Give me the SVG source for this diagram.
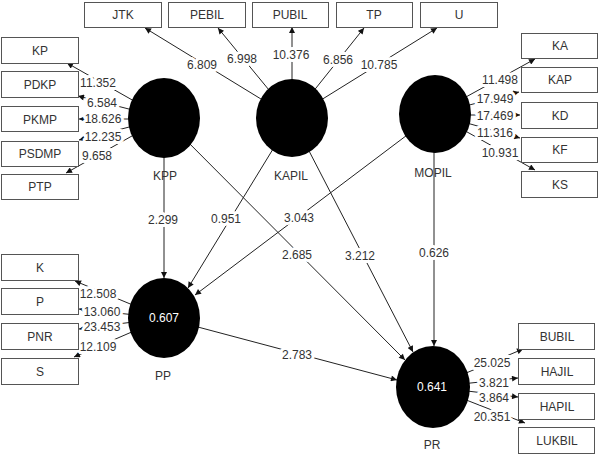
<svg xmlns="http://www.w3.org/2000/svg" width="599" height="454" viewBox="0 0 599 454">
<style>
.box{fill:#fff;stroke:#555;stroke-width:1}
.bt{font-family:"Liberation Sans",Arial,sans-serif;font-size:12px;fill:#333;text-anchor:middle}
.c{fill:#000}
.ct{font-family:"Liberation Sans",Arial,sans-serif;font-size:12px;fill:#fff;text-anchor:middle}
.nl{font-family:"Liberation Sans",Arial,sans-serif;font-size:12px;fill:#333;text-anchor:middle}
.ln{stroke:#222;stroke-width:1;fill:none;marker-end:url(#ah)}
.lb{font-family:"Liberation Sans",Arial,sans-serif;font-size:12px;fill:#333;text-anchor:middle;stroke:#fff;stroke-width:6;paint-order:stroke;stroke-linejoin:round}
</style>
<defs>
<marker id="ah" viewBox="0 0 10 10" refX="10" refY="5" markerWidth="7" markerHeight="6" markerUnits="userSpaceOnUse" orient="auto">
<path d="M0,0 L10,5 L0,10 z" fill="#111"/>
</marker>
</defs>
<rect width="599" height="454" fill="#fff"/>
<g id="connectors">
<line class="ln" x1="292" y1="118" x2="145" y2="28"/>
<line class="ln" x1="292" y1="118" x2="218" y2="28"/>
<line class="ln" x1="292" y1="118" x2="292" y2="27"/>
<line class="ln" x1="292" y1="118" x2="364" y2="28"/>
<line class="ln" x1="292" y1="118" x2="437" y2="28"/>
<line class="ln" x1="164" y1="118" x2="67" y2="63"/>
<line class="ln" x1="164" y1="118" x2="78" y2="96"/>
<line class="ln" x1="164" y1="119" x2="79" y2="119"/>
<line class="ln" x1="164" y1="118" x2="79" y2="140"/>
<line class="ln" x1="164" y1="118" x2="66" y2="173"/>
<line class="ln" x1="435" y1="114" x2="535" y2="59"/>
<line class="ln" x1="435" y1="114" x2="519" y2="92"/>
<line class="ln" x1="435" y1="115" x2="520" y2="115"/>
<line class="ln" x1="435" y1="114" x2="520" y2="138"/>
<line class="ln" x1="435" y1="114" x2="535" y2="170"/>
<line class="ln" x1="164" y1="318" x2="75" y2="281"/>
<line class="ln" x1="164" y1="318" x2="79" y2="309"/>
<line class="ln" x1="164" y1="318" x2="79" y2="329"/>
<line class="ln" x1="164" y1="318" x2="74" y2="357"/>
<line class="ln" x1="433" y1="387" x2="523" y2="349"/>
<line class="ln" x1="433" y1="387" x2="518" y2="378"/>
<line class="ln" x1="433" y1="387" x2="518" y2="397"/>
<line class="ln" x1="433" y1="387" x2="525" y2="423"/>
<line class="ln" x1="164" y1="118" x2="164" y2="278"/>
<line class="ln" x1="292" y1="118" x2="188" y2="288"/>
<line class="ln" x1="435" y1="114" x2="195" y2="295"/>
<line class="ln" x1="164" y1="118" x2="405" y2="360"/>
<line class="ln" x1="292" y1="118" x2="413" y2="352"/>
<line class="ln" x1="434" y1="114" x2="434" y2="346"/>
<line class="ln" x1="164" y1="318" x2="397" y2="380"/>
<text class="lb" x="202" y="69">6.809</text>
<text class="lb" x="242" y="63">6.998</text>
<text class="lb" x="291" y="59">10.376</text>
<text class="lb" x="338" y="64">6.856</text>
<text class="lb" x="379" y="69">10.785</text>
<text class="lb" x="98" y="87">11.352</text>
<text class="lb" x="102" y="107">6.584</text>
<text class="lb" x="103" y="123">18.626</text>
<text class="lb" x="103" y="141">12.235</text>
<text class="lb" x="97" y="160">9.658</text>
<text class="lb" x="500" y="84">11.498</text>
<text class="lb" x="495" y="103">17.949</text>
<text class="lb" x="495" y="120">17.469</text>
<text class="lb" x="495" y="137">11.316</text>
<text class="lb" x="500" y="157">10.931</text>
<text class="lb" x="98" y="298">12.508</text>
<text class="lb" x="102" y="316">13.060</text>
<text class="lb" x="102" y="331">23.453</text>
<text class="lb" x="98" y="351">12.109</text>
<text class="lb" x="492" y="367">25.025</text>
<text class="lb" x="494" y="387">3.821</text>
<text class="lb" x="494" y="402">3.864</text>
<text class="lb" x="492" y="421">20.351</text>
<text class="lb" x="163" y="224">2.299</text>
<text class="lb" x="226" y="223">0.951</text>
<text class="lb" x="299" y="222">3.043</text>
<text class="lb" x="297" y="259">2.685</text>
<text class="lb" x="360" y="260">3.212</text>
<text class="lb" x="434" y="257">0.626</text>
<text class="lb" x="297" y="359">2.783</text>
</g>
<g id="JTK"><rect class="box" x="84.500" y="2.500" width="77" height="25"/><text class="bt" x="123" y="19">JTK</text></g>
<g id="PEBIL"><rect class="box" x="168.500" y="2.500" width="77" height="25"/><text class="bt" x="207" y="19">PEBIL</text></g>
<g id="PUBIL"><rect class="box" x="252.500" y="2.500" width="76" height="25"/><text class="bt" x="290" y="19">PUBIL</text></g>
<g id="TP"><rect class="box" x="336.500" y="2.500" width="76" height="25"/><text class="bt" x="374" y="19">TP</text></g>
<g id="U"><rect class="box" x="420.500" y="2.500" width="77" height="25"/><text class="bt" x="459" y="19">U</text></g>
<g id="KP"><rect class="box" x="1.500" y="37.500" width="77" height="26"/><text class="bt" x="40" y="55">KP</text></g>
<g id="PDKP"><rect class="box" x="1.500" y="71.500" width="77" height="26"/><text class="bt" x="40" y="89">PDKP</text></g>
<g id="PKMP"><rect class="box" x="1.500" y="106.500" width="77" height="25"/><text class="bt" x="40" y="124">PKMP</text></g>
<g id="PSDMP"><rect class="box" x="1.500" y="141.500" width="77" height="25"/><text class="bt" x="40" y="158">PSDMP</text></g>
<g id="PTP"><rect class="box" x="1.500" y="174.500" width="77" height="25"/><text class="bt" x="40" y="191">PTP</text></g>
<g id="KA"><rect class="box" x="521.500" y="33.500" width="76" height="25"/><text class="bt" x="560" y="50">KA</text></g>
<g id="KAP"><rect class="box" x="521.500" y="67.500" width="76" height="25"/><text class="bt" x="560" y="84">KAP</text></g>
<g id="KD"><rect class="box" x="521.500" y="102.500" width="76" height="26"/><text class="bt" x="560" y="120">KD</text></g>
<g id="KF"><rect class="box" x="521.500" y="137.500" width="76" height="25"/><text class="bt" x="560" y="154">KF</text></g>
<g id="KS"><rect class="box" x="521.500" y="171.500" width="76" height="26"/><text class="bt" x="560" y="189">KS</text></g>
<g id="K"><rect class="box" x="1.500" y="254.500" width="77" height="26"/><text class="bt" x="40" y="272">K</text></g>
<g id="P"><rect class="box" x="1.500" y="288.500" width="77" height="26"/><text class="bt" x="40" y="306">P</text></g>
<g id="PNR"><rect class="box" x="1.500" y="323.500" width="77" height="26"/><text class="bt" x="40" y="341">PNR</text></g>
<g id="S"><rect class="box" x="1.500" y="358.500" width="77" height="26"/><text class="bt" x="40" y="376">S</text></g>
<g id="BUBIL"><rect class="box" x="518.500" y="323.500" width="76" height="26"/><text class="bt" x="557" y="341">BUBIL</text></g>
<g id="HAJIL"><rect class="box" x="518.500" y="358.500" width="76" height="26"/><text class="bt" x="557" y="376">HAJIL</text></g>
<g id="HAPIL"><rect class="box" x="518.500" y="393.500" width="76" height="26"/><text class="bt" x="557" y="411">HAPIL</text></g>
<g id="LUKBIL"><rect class="box" x="518.500" y="427.500" width="76" height="26"/><text class="bt" x="557" y="445">LUKBIL</text></g>
<g id="KPP"><ellipse class="c" cx="164" cy="118" rx="36" ry="40"/><text class="nl" x="165" y="180">KPP</text></g>
<g id="KAPIL"><ellipse class="c" cx="292" cy="118" rx="36" ry="39"/><text class="nl" x="291" y="180">KAPIL</text></g>
<g id="MOPIL"><ellipse class="c" cx="435" cy="114" rx="36" ry="39"/><text class="nl" x="433" y="177">MOPIL</text></g>
<g id="PP"><ellipse class="c" cx="164" cy="318" rx="36" ry="40"/><text class="ct" x="164" y="322">0.607</text><text class="nl" x="163" y="380">PP</text></g>
<g id="PR"><ellipse class="c" cx="433" cy="387" rx="37" ry="41"/><text class="ct" x="432" y="391">0.641</text><text class="nl" x="432" y="449">PR</text></g>
</svg>
